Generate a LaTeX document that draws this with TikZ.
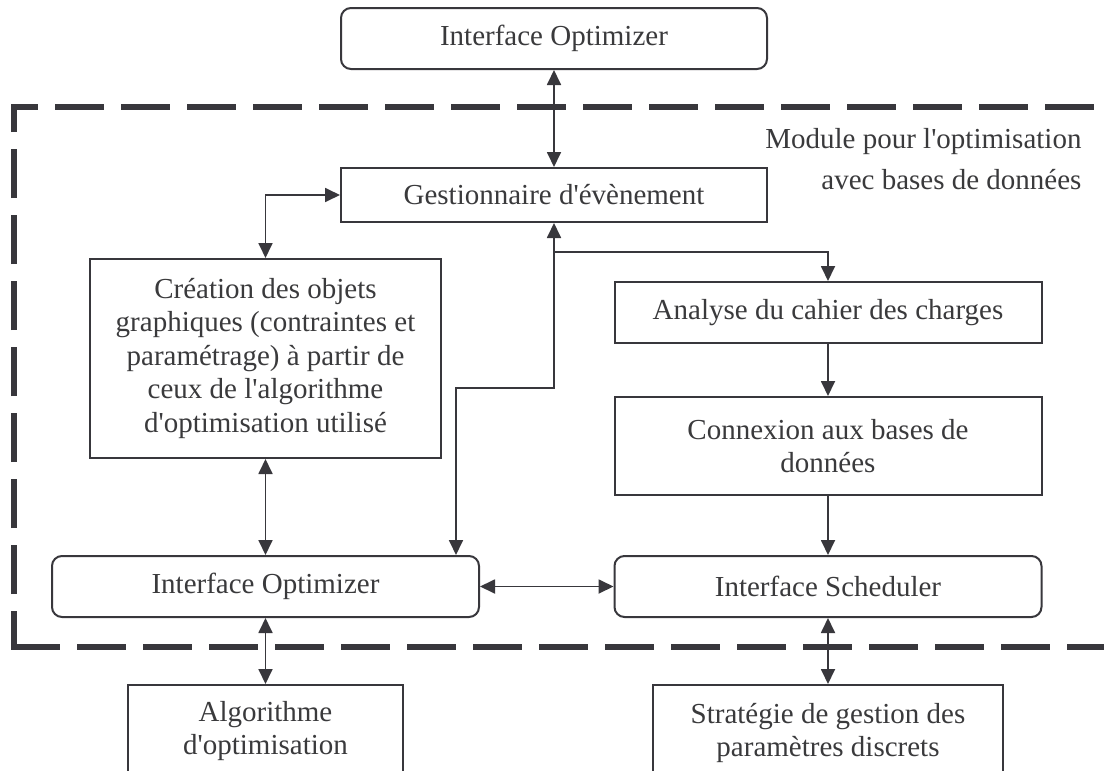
\documentclass[tikz,border=0pt]{standalone}
\usepackage{fontspec}
\setmainfont{Liberation Serif}
\usetikzlibrary{arrows.meta,calc}
\definecolor{linec}{RGB}{56,55,60}
\definecolor{textc}{RGB}{58,58,60}
\newcommand{\sq}{\textquotesingle}
\tikzset{
  every node/.style={font=\fontsize{29}{33.5}\selectfont, text=textc},
  boxnode/.style={draw=linec, line width=2pt, inner sep=0pt, align=center},
  roundnode/.style={boxnode, rounded corners=10pt},
  conn/.style={draw=linec, line width=1.8pt},
  tip/.tip={Triangle[length=15pt,width=14pt]},
  frameline/.style={draw=linec, line width=5.5pt, dash pattern=on 49pt off 17pt}
}
\begin{document}
\begin{tikzpicture}[x=1pt,y=-1pt]
\useasboundingbox (0,0) rectangle (1104,771);
\fill[white] (0,0) rectangle (1104,771);
\clip (0,0) rectangle (1104,771);

% dashed frame
\draw[frameline, dash phase=13pt] (14,647) -- (14,107) -- (1104,107);
\draw[frameline] (11.25,647) -- (1104,647);

% module label
\node[anchor=base east] (modA) at (1085,148) {Module pour l\sq optimisation};
\node[anchor=base east] (modB) at (1085,189) {avec bases de données};

% boxes
\node[roundnode, minimum width=426pt, minimum height=61pt] (topIO) at (554,38.5) {Interface Optimizer};
\node[boxnode, minimum width=426pt, minimum height=54pt] (gest) at (554,195) {Gestionnaire d\sq évènement};
\node[boxnode, minimum width=351pt, minimum height=199pt] (crea) at (265.5,358.5)
  {Création des objets\\graphiques (contraintes et\\paramétrage) à partir de\\ceux de l\sq algorithme\\d\sq optimisation utilisé};
\node[boxnode, minimum width=427pt, minimum height=61pt] (analyse) at (828,312.5) {Analyse du cahier des charges};
\node[boxnode, minimum width=427pt, minimum height=98pt] (connex) at (828,446) {Connexion aux bases de\\données};
\node[roundnode, minimum width=427pt, minimum height=61pt] (botIO) at (265.5,586.5) {Interface Optimizer};
\node[roundnode, minimum width=427pt, minimum height=61pt] (sched) at (828,586.5) {Interface Scheduler};
\node[boxnode, minimum width=275pt, minimum height=130pt, anchor=north] (algo) at (265.5,684) {};
\node[align=center] (algoText) at (265.5,731) {Algorithme\\d\sq optimisation};
\node[boxnode, minimum width=350pt, minimum height=130pt, anchor=north] (strat) at (828,684) {};
\node[align=center] (stratText) at (828,733) {Stratégie de gestion des\\paramètres discrets};

% helper coordinates
\coordinate (dcorner) at (456,388);
\coordinate (branch) at (554,252);

% connectors
\draw[conn, tip-tip] (topIO.south) -- (gest.north);
\draw[conn, tip-tip] (crea.north) |- (gest.west);
\draw[conn, tip-tip] (crea.south) -- (botIO.north);
\draw[conn, tip-tip] (gest.south) |- (dcorner) -- (dcorner |- botIO.north);
\draw[conn, -tip] (branch) -| (analyse.north);
\draw[conn, -tip] (analyse.south) -- (connex.north);
\draw[conn, -tip] (connex.south) -- (sched.north);
\draw[conn, tip-tip] (botIO.east) -- (sched.west);
\draw[conn, tip-tip] (botIO.south) -- (algo.north);
\draw[conn, tip-tip] (sched.south) -- (strat.north);
\end{tikzpicture}
\end{document}
